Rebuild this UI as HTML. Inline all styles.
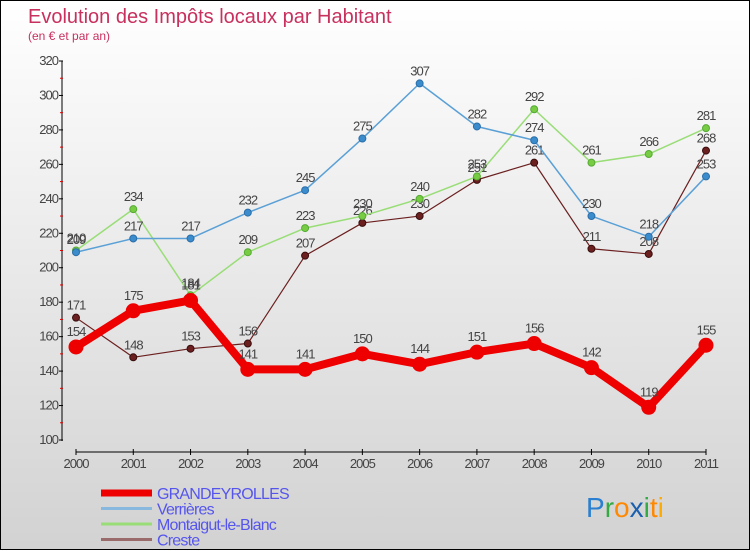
<!DOCTYPE html>
<html><head><meta charset="utf-8"><style>
html,body{margin:0;padding:0}
body{width:750px;height:550px;overflow:hidden;font-family:"Liberation Sans",sans-serif}
#wrap{position:relative;width:748px;height:548px;border:1px solid #000;background:linear-gradient(#ffffff,#d2d2d2)}
svg{position:absolute;left:0;top:0}
</style></head><body>
<div id="wrap">
<svg id="chart" width="750" height="550"></svg>
</div>
<script>
const years=["2000","2001","2002","2003","2004","2005","2006","2007","2008","2009","2010","2011"];
const grandeyrolles=[154,175,181,141,141,150,144,151,156,142,119,155];
const verrieres=[209,217,217,232,245,275,307,282,274,230,218,253];
const montaigut=[210,234,184,209,223,230,240,253,292,261,266,281];
const creste=[171,148,153,156,207,226,230,251,261,211,208,268];
const yTicks=[100,120,140,160,180,200,220,240,260,280,300,320];
const seriesNames=["GRANDEYROLLES","Verrières","Montaigut-le-Blanc","Creste"];

const NS="http://www.w3.org/2000/svg";
const svg=document.getElementById('chart');
function x(i){return 75+i*(705-75)/(years.length-1);}
function y(v){return 439-(v-100)*(439-60)/(320-100);}
function mk(tag,attrs,parent){const e=document.createElementNS(NS,tag);for(const k in attrs)e.setAttribute(k,attrs[k]);(parent||svg).appendChild(e);return e;}

let t=mk('text',{x:27,y:22,'font-size':20,fill:'#c8305e'});t.textContent='Evolution des Impôts locaux par Habitant';

t=mk('text',{x:27,y:39,'font-size':12,fill:'#c8305e'});t.textContent='(en € et par an)';


let g=mk('g',{});
mk('line',{x1:61,y1:60,x2:61,y2:440,stroke:'#000','stroke-width':1},g);
yTicks.forEach((v,i)=>{
  mk('line',{x1:58,y1:y(v),x2:62,y2:y(v),stroke:'#000'},g);
  const tt=mk('text',{x:57,y:y(v)+4,'font-size':13,fill:'#444','text-anchor':'end','letter-spacing':'-1'},g);tt.textContent=v;
  if(i<yTicks.length-1){const mv=v+10;mk('line',{x1:59,y1:y(mv),x2:62,y2:y(mv),stroke:'#e00000'},g);}
});
g=mk('g',{});
mk('line',{x1:75,y1:451,x2:705,y2:451,stroke:'#000'},g);
years.forEach((yr,i)=>{
  mk('line',{x1:x(i),y1:448,x2:x(i),y2:454,stroke:'#000'},g);
  const tt=mk('text',{x:x(i),y:467,'font-size':13,fill:'#444','text-anchor':'middle','letter-spacing':'-1'},g);tt.textContent=yr;
});

function series(data,color,dark,w,r,name,ptFill){
  const sg=mk('g',{});
  mk('polyline',{points:data.map((v,i)=>x(i)+','+y(v)).join(' '),fill:'none',stroke:color,'stroke-width':w,'stroke-linejoin':'round'},sg);
  data.forEach((v,i)=>{
    const c=mk('circle',{cx:x(i),cy:y(v),r:r,fill:ptFill,stroke:dark,'stroke-width':1},sg);
    
    
    const tt=mk('text',{x:x(i),y:y(v)-8-(r>4?3:0),'font-size':13,fill:'#444','text-anchor':'middle','letter-spacing':'-1'},sg);tt.textContent=v;
  });
}
series(creste,'#6b1f1f','#3a0d0d',1.2,3.5,'creste-series','#6b1f1f');
series(montaigut,'#99dd77','#55aa33',1.5,3.5,'montaigut-series','#77cc44');
series(verrieres,'#5aa0d6','#2b6ea8',1.5,3.5,'verrieres-series','#3b8ccc');
series(grandeyrolles,'#ee0000','#ee0000',8,7,'grandeyrolles-series','#ee0000');

const lcol=['#ee0000','#88b8dd','#99dd77','#9a6b6b'];const lw=[7,3,3,3];
seriesNames.forEach((n,i)=>{
  const ly=492+i*15.5;
  const lg=mk('g',{});
  
  
  mk('line',{x1:100,y1:ly,x2:151,y2:ly,stroke:lcol[i],'stroke-width':lw[i]},lg);
  const tt=mk('text',{x:156,y:ly+6,'font-size':16,fill:'#5555ee','letter-spacing':'-0.8'},lg);tt.textContent=n;
});
const lt=mk('text',{x:585,y:516,'font-size':28});


[['P','#2a7fd0'],['r','#33aa44'],['o','#ff8800'],['x','#1a5fb0'],['i','#33aa44'],['t','#ff8800'],['i','#ffaa00']].forEach(([c,col])=>{const s=mk('tspan',{fill:col},lt);s.textContent=c;});
</script>
</body></html>
